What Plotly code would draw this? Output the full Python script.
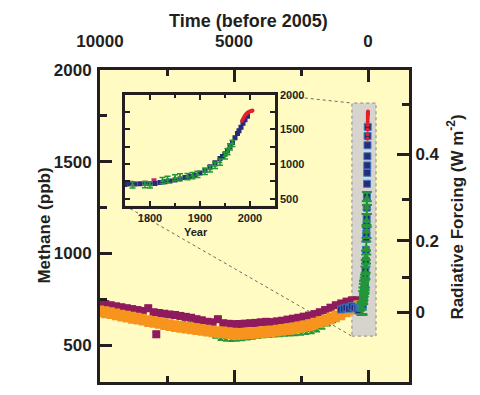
import plotly.graph_objects as go

REF_YEAR = 2005

# ---------------- Holocene ice-core series (age = years before 2005) ----------------
purple_age = [10000, 9800, 9600, 9400, 9200, 9000, 8800, 8600, 8400, 8200, 8000, 7900, 7800, 7600,
              7400, 7200, 7000, 6800, 6600, 6400, 6200, 6000, 5800, 5600, 5400, 5200, 5000, 4800,
              4600, 4400, 4200, 4000, 3800, 3600, 3400, 3200, 3000, 2800, 2600, 2400, 2200, 2000,
              1800, 1600, 1400, 1200, 1000, 800, 600, 400]
purple_ppb = [728, 724, 718, 712, 707, 702, 697, 692, 687, 702, 680, 560, 676, 672,
              668, 665, 660, 655, 650, 642, 636, 628, 625, 642, 620, 617, 615, 616,
              618, 620, 622, 625, 628, 626, 630, 634, 640, 645, 650, 656, 662, 670,
              680, 692, 705, 718, 728, 738, 745, 745]

orange_age = [10000, 9800, 9600, 9400, 9200, 9000, 8800, 8600, 8400, 8200, 8000, 7800, 7600, 7400,
              7200, 7000, 6800, 6600, 6400, 6200, 6000, 5800, 5600, 5400, 5200, 5000, 4800, 4600,
              4400, 4200, 4000, 3800, 3600, 3400, 3200, 3000, 2800, 2600, 2400, 2200, 2000, 1800,
              1600, 1400, 1200, 1000, 800, 600, 400, 300]
orange_ppb = [685, 680, 675, 668, 662, 656, 650, 645, 640, 632, 628, 622, 615, 610,
              604, 600, 596, 592, 588, 584, 580, 576, 572, 570, 566, 563, 562, 564,
              566, 568, 570, 573, 576, 580, 584, 588, 592, 598, 603, 610, 618, 626,
              636, 646, 658, 668, 685, 700, 712, 715]

green_holo_age = [6900, 6700, 6500, 6300, 6100, 5900, 5700, 5500, 5300, 5100, 4900, 4700, 4500,
                  4300, 4100, 3900, 3700, 3500, 3300, 3100, 2900, 2700, 2500, 2300, 2100, 1900,
                  1700, 1500, 1300, 1100, 900, 700, 500, 350]
green_holo_ppb = [622, 615, 610, 600, 585, 570, 548, 535, 532, 530, 532, 534, 538,
                  542, 546, 550, 552, 554, 556, 558, 560, 562, 564, 568, 572, 582,
                  597, 614, 632, 650, 667, 682, 692, 697]

# ---------------- Recent records (calendar years AD) ----------------
navy_year = [1000, 1100, 1200, 1300, 1400, 1500, 1600, 1650, 1700,
             1750, 1760, 1770, 1780, 1790, 1800, 1810, 1820, 1830, 1840, 1850, 1860, 1870,
             1880, 1890, 1900, 1910, 1920, 1930, 1940, 1945, 1950, 1955, 1960, 1965, 1970,
             1975, 1978, 1982, 1986, 1990, 1995]
navy_ppb = [695, 700, 705, 700, 712, 705, 700, 690, 705,
            705, 715, 712, 718, 722, 715, 720, 735, 745, 755, 770, 785, 805,
            820, 840, 870, 910, 960, 1020, 1080, 1110, 1150, 1190, 1250, 1310, 1380,
            1440, 1480, 1530, 1590, 1640, 1690]

green_year = [1765, 1790, 1800, 1825, 1835, 1850, 1860, 1875, 1885, 1895, 1910, 1920,
              1930, 1940, 1950, 1955, 1960, 1965]
green_ppb = [700, 705, 700, 760, 780, 800, 815, 820, 835, 850, 895, 930,
             980, 1030, 1120, 1180, 1250, 1300]

red_year = [1984, 1986, 1988, 1990, 1992, 1994, 1996, 1998, 2000, 2002, 2004, 2005]
red_ppb = [1625, 1650, 1675, 1700, 1720, 1735, 1745, 1755, 1760, 1765, 1770, 1774]

pink_year = [1756, 1762, 1808]
pink_ppb = [718, 722, 760]

# ---------------- Axes / ticks ----------------
time_ticks = [10000, 5000, 0]
time_minor = [7500, 2500]
ppb_ticks = [500, 1000, 1500, 2000]
ppb_minor = [750, 1250, 1750]
forcing_labels = ["0", "0.2", "0.4"]
forcing_ppb = [680, 1069, 1541]
forcing_minor_ppb = [867, 1296, 1811]
inset_year_ticks = [1800, 1900, 2000]
inset_year_minor = [1850, 1950]
inset_ppb_ticks = [500, 1000, 1500, 2000]
inset_ppb_minor = [750, 1250, 1750]

# ---------------- styles ----------------
INK = "#231f20"
PURPLE = "#8e1b5d"
ORANGE = "#f7941d"
GREEN = "#23963a"
NAVY = "#282b78"
RED = "#e3202b"
GRAY = "#d6d4cc"
YELLOW = "#fffbc3"
FONT = "Liberation Sans, Arial, Helvetica, sans-serif"

X_RANGE = [10000, -1530]
Y_RANGE = [300, 2000]
INSET_X_RANGE = [1750, 2050]
INSET_Y_RANGE = [400, 2000]
INSET_XDOM = [0.0809, 0.5663]
INSET_YDOM = [0.5651, 0.9206]
ZOOM_AGE = [600, -300]
ZOOM_PPB = [550, 1820]

fig = go.Figure()


def main_scatter(x, y, color, symbol, size, err=None, errw=2, capw=3, line=None):
    fig.add_trace(go.Scatter(
        x=x, y=y, mode="markers", xaxis="x", yaxis="y",
        marker=dict(color=color, symbol=symbol, size=size,
                    line=line if line else dict(width=0)),
        error_y=dict(type="constant", value=err, color=color, thickness=errw, width=capw,
                     visible=err is not None),
        showlegend=False, hoverinfo="skip"))


def inset_scatter(x, y, color, symbol, size, err=None, line=None):
    fig.add_trace(go.Scatter(
        x=x, y=y, mode="markers", xaxis="x2", yaxis="y3",
        marker=dict(color=color, symbol=symbol, size=size,
                    line=line if line else dict(width=0)),
        error_y=dict(type="constant", value=err, color=color, thickness=1.5, width=3,
                     visible=err is not None),
        showlegend=False, hoverinfo="skip"))


def to_age(years):
    return [REF_YEAR - yr for yr in years]


# main panel
main_scatter(green_holo_age, green_holo_ppb, GREEN, "triangle-up", 5, err=8, errw=1.5, capw=3)
main_scatter(purple_age, purple_ppb, PURPLE, "square", 8, err=14, errw=2, capw=3)
main_scatter(orange_age, orange_ppb, ORANGE, "square", 8, err=24, errw=3, capw=4)
main_scatter(to_age(pink_year), pink_ppb, PURPLE, "square", 6)
main_scatter(to_age(navy_year), navy_ppb, NAVY, "square", 7, line=dict(color="#3b7cc4", width=1))
main_scatter(to_age(green_year), green_ppb, GREEN, "triangle-up", 8, err=35, errw=2, capw=5)
main_scatter(to_age(red_year), red_ppb, RED, "circle", 4)

# inset panel
inset_scatter(pink_year, pink_ppb, "#b0307a", "square", 5)
inset_scatter(navy_year, navy_ppb, NAVY, "square", 5)
inset_scatter(green_year, green_ppb, GREEN, "triangle-up", 5, err=45)
inset_scatter(red_year, red_ppb, RED, "circle", 4)


def frac_to_main_x(f):
    return X_RANGE[0] + f * (X_RANGE[1] - X_RANGE[0])


def frac_to_main_y(f):
    return Y_RANGE[0] + f * (Y_RANGE[1] - Y_RANGE[0])


shapes = [
    dict(type="rect", xref="x", yref="y", x0=ZOOM_AGE[0], x1=ZOOM_AGE[1], y0=ZOOM_PPB[0], y1=ZOOM_PPB[1],
         fillcolor=GRAY, line=dict(color="#8a8a85", width=1, dash="dot"), layer="below"),
    dict(type="rect", xref="x2 domain", yref="y3 domain", x0=0, x1=1, y0=0, y1=1,
         fillcolor=GRAY, line=dict(width=0), layer="below"),
    dict(type="line", xref="x", yref="y",
         x0=frac_to_main_x(INSET_XDOM[1]), y0=frac_to_main_y(INSET_YDOM[1]),
         x1=ZOOM_AGE[0], y1=ZOOM_PPB[1], line=dict(color="#6b6b66", width=1, dash="dot"), layer="below"),
    dict(type="line", xref="x", yref="y",
         x0=frac_to_main_x(INSET_XDOM[0]), y0=frac_to_main_y(INSET_YDOM[0]),
         x1=ZOOM_AGE[0], y1=ZOOM_PPB[0], line=dict(color="#6b6b66", width=1, dash="dot"), layer="below"),
]

bold17 = dict(family=FONT, size=17, color=INK, weight="bold")
bold11 = dict(family=FONT, size=11, color=INK, weight="bold")

fig.update_layout(
    width=480, height=395,
    margin=dict(l=100, r=71, t=70, b=10),
    paper_bgcolor="white", plot_bgcolor=YELLOW,
    showlegend=False,
    shapes=shapes,
    xaxis=dict(domain=[0, 1], range=X_RANGE, side="top", anchor="y",
               showline=True, linewidth=3, linecolor=INK, mirror="ticks",
               ticks="inside", ticklen=12, tickwidth=3, tickcolor=INK,
               tickmode="array", tickvals=time_ticks, ticktext=[str(t) for t in time_ticks],
               minor=dict(tickmode="array", tickvals=time_minor, ticks="inside", ticklen=6,
                          tickwidth=3, tickcolor=INK, showgrid=False),
               showgrid=False, zeroline=False, tickfont=bold17, ticklabelstandoff=13),
    yaxis=dict(domain=[0, 1], range=Y_RANGE, anchor="x",
               showline=True, linewidth=3, linecolor=INK, mirror=False,
               ticks="inside", ticklen=12, tickwidth=3, tickcolor=INK,
               tickmode="array", tickvals=ppb_ticks, ticktext=[str(t) for t in ppb_ticks],
               minor=dict(tickmode="array", tickvals=ppb_minor, ticks="inside", ticklen=7,
                          tickwidth=3, tickcolor=INK, showgrid=False),
               showgrid=False, zeroline=False, tickfont=bold17, ticklabelstandoff=2),
    yaxis2=dict(range=Y_RANGE, overlaying="y", side="right", anchor="x",
                showline=True, linewidth=3, linecolor=INK,
                ticks="inside", ticklen=12, tickwidth=3, tickcolor=INK,
                tickmode="array", tickvals=forcing_ppb, ticktext=forcing_labels,
                showticklabels=True,
                showgrid=False, zeroline=False, tickfont=bold17),
    yaxis4=dict(range=Y_RANGE, overlaying="y", side="right", anchor="x",
                showline=False, ticks="inside", ticklen=7, tickwidth=3, tickcolor=INK,
                tickmode="array", tickvals=forcing_minor_ppb, showticklabels=False,
                showgrid=False, zeroline=False),
    xaxis2=dict(domain=INSET_XDOM, range=INSET_X_RANGE, anchor="y3",
                showline=True, linewidth=2.5, linecolor=INK, mirror="ticks",
                ticks="inside", ticklen=5, tickwidth=2, tickcolor=INK,
                tickmode="array", tickvals=inset_year_ticks, ticktext=[str(t) for t in inset_year_ticks],
                minor=dict(tickmode="array", tickvals=inset_year_minor, ticks="inside", ticklen=3,
                           tickwidth=2, tickcolor=INK, showgrid=False),
                showgrid=False, zeroline=False, tickfont=bold11),
    yaxis3=dict(domain=INSET_YDOM, range=INSET_Y_RANGE, anchor="x2", side="right",
                showline=True, linewidth=2.5, linecolor=INK, mirror="ticks",
                ticks="inside", ticklen=5, tickwidth=2, tickcolor=INK,
                tickmode="array", tickvals=inset_ppb_ticks, ticktext=[str(t) for t in inset_ppb_ticks],
                minor=dict(tickmode="array", tickvals=inset_ppb_minor, ticks="inside", ticklen=5,
                           tickwidth=2, tickcolor=INK, showgrid=False),
                showgrid=False, zeroline=False, tickfont=bold11),
    annotations=[
        dict(text="Time (before 2005)", xref="paper", yref="paper", x=0.482, y=1.158,
             xanchor="center", yanchor="middle", showarrow=False,
             font=dict(family=FONT, size=18, color=INK, weight="bold")),
        dict(text="Methane (ppb)", xref="paper", yref="paper", x=-0.181, y=0.5016,
             xanchor="center", yanchor="middle", textangle=-90, showarrow=False,
             font=dict(family=FONT, size=17, color=INK, weight="bold")),
        dict(text="Radiative Forcing (W m<sup>-2</sup>)", xref="paper", yref="paper", x=1.149, y=0.527,
             xanchor="center", yanchor="middle", textangle=-90, showarrow=False,
             font=dict(family=FONT, size=17, color=INK, weight="bold")),
        dict(text="Year", xref="paper", yref="paper", x=0.311, y=0.482,
             xanchor="center", yanchor="middle", showarrow=False, font=bold11),
    ],
)

# dummy traces so the forcing axes are rendered
fig.add_trace(go.Scatter(x=[None], y=[None], xaxis="x", yaxis="y2", showlegend=False, hoverinfo="skip"))
fig.add_trace(go.Scatter(x=[None], y=[None], xaxis="x", yaxis="y4", showlegend=False, hoverinfo="skip"))

fig.write_html("out.html", config={"displayModeBar": False},
               post_script="document.body.style.margin='0px';document.body.style.overflow='hidden';")
